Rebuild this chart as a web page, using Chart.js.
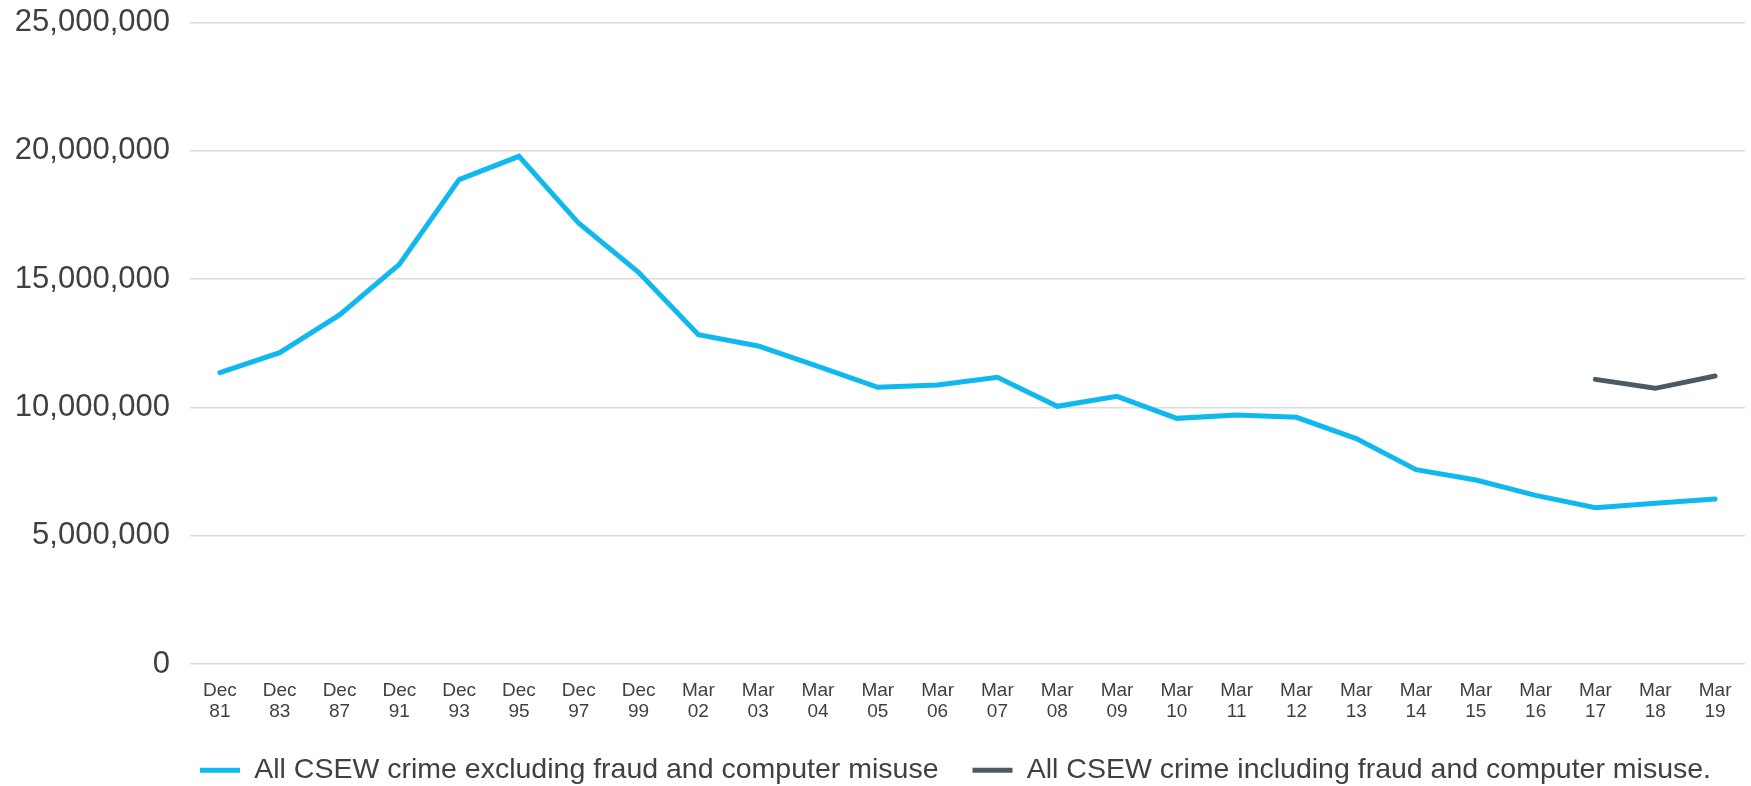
<!DOCTYPE html>
<html>
<head>
<meta charset="utf-8">
<script src="https://cdn.jsdelivr.net/npm/chart.js@4.4.1/dist/chart.umd.min.js"></script>
<style>
  html, body { margin: 0; padding: 0; background: #fff; }
  #wrap { width: 1751px; height: 786px; }
</style>
</head>
<body>
<div id="wrap"><canvas id="chart"></canvas></div>
<script>
// survey years (two-line tick labels)
const perioden = [
    ['Dec', '81'], ['Dec', '83'], ['Dec', '87'], ['Dec', '91'], ['Dec', '93'], ['Dec', '95'],
    ['Dec', '97'], ['Dec', '99'], ['Mar', '02'], ['Mar', '03'], ['Mar', '04'], ['Mar', '05'],
    ['Mar', '06'], ['Mar', '07'], ['Mar', '08'], ['Mar', '09'], ['Mar', '10'], ['Mar', '11'],
    ['Mar', '12'], ['Mar', '13'], ['Mar', '14'], ['Mar', '15'], ['Mar', '16'], ['Mar', '17'],
    ['Mar', '18'], ['Mar', '19']
];

const ohneBetrug = [
    11350000, 12130000, 13600000, 15570000, 18870000, 19780000, 17170000, 15260000,
    12830000, 12390000, 11600000, 10780000, 10870000, 11170000, 10040000, 10430000,
    9570000, 9700000, 9610000, 8780000, 7570000, 7170000, 6570000, 6090000,
    6260000, 6430000
];

const mitBetrug = [
    null, null, null, null, null, null, null, null, null, null, null, null, null,
    null, null, null, null, null, null, null, null, null, null,
    11090000, 10740000, 11220000
];

const yMax = 25000000;
const yStep = 5000000;

const schrift = "'Liberation Sans', Arial, sans-serif";

new Chart(document.getElementById('chart'), {
    type: 'line',
    data: {
        labels: perioden,
        datasets: [{
            label: 'All CSEW crime excluding fraud and computer misuse',
            data: ohneBetrug,
            borderColor: '#0fb8ee',
            backgroundColor: '#0fb8ee',
            borderWidth: 5,
            borderCapStyle: 'round',
            pointRadius: 0,
            tension: 0
        }, {
            label: 'All CSEW crime including fraud and computer misuse.',
            data: mitBetrug,
            borderColor: '#4b5a63',
            backgroundColor: '#4b5a63',
            borderWidth: 5,
            borderCapStyle: 'round',
            pointRadius: 0,
            tension: 0
        }]
    },
    options: {
        responsive: true,
        maintainAspectRatio: false,
        animation: false,
        layout: {
            padding: { top: 0, right: 6, left: 0, bottom: 0 }
        },
        scales: {
            x: {
                offset: true,
                grid: { display: false },
                border: { display: false },
                ticks: {
                    autoSkip: false,
                    maxRotation: 0,
                    padding: 8,
                    color: '#404040',
                    font: { family: schrift, size: 19, lineHeight: 1.1 }
                },
                afterFit: function (scale) {
                    scale.height = 58;
                }
            },
            y: {
                min: 0,
                max: yMax,
                border: { display: false },
                grid: {
                    color: '#dcdcdc',
                    lineWidth: 1.5,
                    drawTicks: false
                },
                ticks: {
                    stepSize: yStep,
                    padding: 20,
                    color: '#404040',
                    font: { family: schrift, size: 31, lineHeight: 0.15 },
                    callback: function (value) {
                        return value.toLocaleString('en-GB');
                    }
                },
                afterFit: function (scale) {
                    scale.width = 190;
                }
            }
        },
        plugins: {
            legend: {
                position: 'bottom',
                align: 'end',
                maxHeight: 64,
                labels: {
                    usePointStyle: true,
                    pointStyle: 'line',
                    pointStyleWidth: 40,
                    padding: 34,
                    color: '#404040',
                    font: { family: schrift, size: 28.5 }
                }
            },
            tooltip: { enabled: false }
        }
    }
});
</script>
</body>
</html>
